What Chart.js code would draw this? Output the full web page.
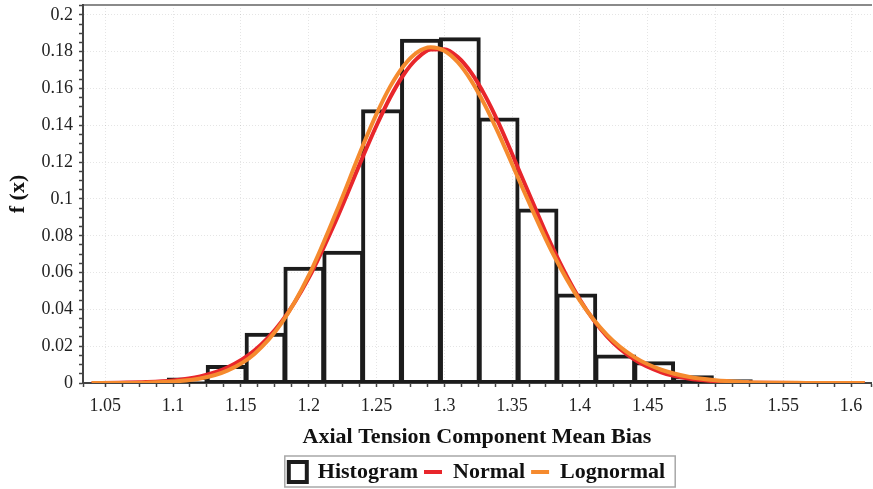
<!DOCTYPE html>
<html>
<head>
<meta charset="utf-8">
<script src="https://cdn.jsdelivr.net/npm/chart.js@4.4.1/dist/chart.umd.min.js"></script>
<style>
  html, body { margin: 0; padding: 0; background: #fff; }
  #wrap { width: 873px; height: 489px; }
</style>
</head>
<body>
<div id="wrap"><canvas id="biasChart" width="873" height="489"></canvas></div>
<script>
// Histogram: bin centres and relative frequencies
const binCentres = [1.1108, 1.1395, 1.1682, 1.1968, 1.2255, 1.2541, 1.2828, 1.3115,
                    1.3401, 1.3688, 1.3974, 1.4261, 1.4548, 1.4834, 1.5121];
const binHeights = [0.0022, 0.0090, 0.0265, 0.0623, 0.0710, 0.1480, 0.1862, 0.1870,
                    0.1434, 0.0940, 0.0478, 0.0147, 0.0110, 0.0034, 0.0012];

// Fitted curves, sampled along the bias axis
const curveX = [1.04, 1.06, 1.08, 1.10, 1.12, 1.14, 1.16, 1.18, 1.20, 1.22, 1.24, 1.25,
                1.26, 1.27, 1.28, 1.29, 1.30, 1.31, 1.32, 1.33, 1.34, 1.36, 1.38, 1.40,
                1.42, 1.44, 1.46, 1.48, 1.50, 1.52, 1.54, 1.56, 1.58, 1.60, 1.61];
const normalY = [0.0000, 0.0002, 0.0005, 0.0014, 0.0036, 0.0084, 0.0176, 0.0333, 0.0570,
                 0.0881, 0.1230, 0.1398, 0.1550, 0.1675, 0.1764, 0.1812, 0.1814, 0.1771,
                 0.1685, 0.1563, 0.1414, 0.1072, 0.0734, 0.0454, 0.0253, 0.0128, 0.0058,
                 0.0024, 0.0009, 0.0003, 0.0001, 0.0000, 0.0000, 0.0000, 0.0000];
const lognormalY = [0.0000, 0.0000, 0.0002, 0.0008, 0.0024, 0.0067, 0.0158, 0.0325, 0.0583,
                    0.0922, 0.1290, 0.1461, 0.1609, 0.1723, 0.1797, 0.1825, 0.1806, 0.1743,
                    0.1642, 0.1510, 0.1356, 0.1022, 0.0705, 0.0448, 0.0262, 0.0142, 0.0072,
                    0.0034, 0.0015, 0.0006, 0.0002, 0.0001, 0.0000, 0.0000, 0.0000];

// Axis ranges and tick steps
const xMin = 1.0336, xMax = 1.6147;
const yMin = 0, yMax = 0.2054;
const xMajor = 0.05, xMinor = 0.0125;
const yMajor = 0.02, yMinor = 0.005;

const serif = "'Liberation Serif', 'Times New Roman', serif";
const gridColor = 'rgba(0,0,0,0.10)';

function isMajor(v, step) {
  const r = v / step;
  return Math.abs(r - Math.round(r)) < 1e-6;
}
function fmt(v) {
  return String(parseFloat(v.toFixed(2)));
}

// thin grey frame around the legend entries
const legendFrame = {
  id: 'legendFrame',
  afterDraw(chart) {
    const boxes = chart.legend && chart.legend.legendHitBoxes;
    if (!boxes || !boxes.length) return;
    const first = boxes[0], last = boxes[boxes.length - 1];
    const ctx = chart.ctx;
    ctx.save();
    ctx.strokeStyle = '#a8a8a8';
    ctx.lineWidth = 1.5;
    ctx.strokeRect(first.left - 4, first.top - 5,
                   last.left + last.width + 10 - (first.left - 4), first.height + 9);
    ctx.restore();
  }
};

const ctx = document.getElementById('biasChart').getContext('2d');
new Chart(ctx, {
  type: 'bar',
  data: {
    datasets: [
      {
        type: 'bar',
        label: 'Histogram',
        xAxisID: 'xb',
        data: binCentres.map((x, i) => ({ x: x, y: binHeights[i] })),
        backgroundColor: 'rgba(0,0,0,0)',
        borderColor: '#1c1c1c',
        borderWidth: 1,
        inflateAmount: 1.5,
        borderSkipped: false,
        grouped: false,
        barPercentage: 1,
        categoryPercentage: 1,
        order: 3
      },
      {
        type: 'line',
        label: 'Normal',
        xAxisID: 'x',
        data: curveX.map((x, i) => ({ x: x, y: normalY[i] })),
        borderColor: '#e8262b',
        borderWidth: 4,
        pointRadius: 0,
        fill: false,
        cubicInterpolationMode: 'monotone',
        order: 2
      },
      {
        type: 'line',
        label: 'Lognormal',
        xAxisID: 'x',
        data: curveX.map((x, i) => ({ x: x, y: lognormalY[i] })),
        borderColor: '#f58a2e',
        borderWidth: 4,
        pointRadius: 0,
        fill: false,
        cubicInterpolationMode: 'monotone',
        order: 1
      }
    ]
  },
  options: {
    responsive: false,
    animation: false,
    devicePixelRatio: 1,
    layout: { autoPadding: false, padding: { left: 0, right: 2, top: 5, bottom: -4 } },
    plugins: {
      tooltip: { enabled: false },
      legend: {
        position: 'bottom',
        fullSize: false,
        labels: {
          usePointStyle: true,
          pointStyleWidth: 18,
          boxHeight: 20,
          padding: 6,
          color: '#111',
          font: { family: serif, size: 22, weight: 'bold' },
          generateLabels: (chart) => chart.data.datasets.map((ds, i) => ({
            text: ds.label,
            datasetIndex: i,
            hidden: false,
            fontColor: '#111',
            fillStyle: ds.type === 'bar' ? '#fff' : ds.borderColor,
            strokeStyle: ds.borderColor,
            lineWidth: 4,
            pointStyle: ds.type === 'bar' ? 'rect' : 'line'
          }))
        }
      }
    },
    scales: {
      // hidden axis that carries the histogram bars (no ticks, so the bar width follows the bin spacing)
      xb: {
        type: 'linear',
        position: 'bottom',
        display: false,
        min: xMin,
        max: xMax,
        offset: false,
        grid: { offset: false, display: false },
        ticks: { display: false, count: 2 }
      },
      x: {
        type: 'linear',
        position: 'bottom',
        min: xMin,
        max: xMax,
        offset: false,
        ticks: {
          stepSize: xMinor,
          autoSkip: false,
          maxRotation: 0,
          padding: 8,
          color: '#222',
          font: { family: serif, size: 18 },
          callback: (v) => isMajor(v, xMajor) ? fmt(v) : ''
        },
        grid: {
          offset: false,
          color: (c) => (c.tick && isMajor(c.tick.value, xMajor)) ? gridColor : 'rgba(0,0,0,0)',
          lineWidth: 1,
          tickLength: 4,
          tickWidth: 1.5,
          tickColor: '#444'
        },
        border: { color: '#444', width: 2, dash: [1, 2] },
        title: {
          display: true,
          text: 'Axial Tension Component Mean Bias',
          color: '#111',
          font: { family: serif, size: 22, weight: 'bold' },
          padding: { top: 0, bottom: 4 }
        },
        afterFit: (s) => { s.height = 72; s.paddingLeft = 0; s.paddingRight = 0; }
      },
      x2: {
        type: 'linear',
        position: 'top',
        display: true,
        min: xMin,
        max: xMax,
        offset: false,
        grid: { display: false, drawTicks: false, offset: false },
        ticks: { display: false },
        border: { display: true, color: '#8a8a8a', width: 2 }
      },
      y: {
        type: 'linear',
        min: yMin,
        max: yMax,
        ticks: {
          stepSize: yMinor,
          autoSkip: false,
          padding: 6,
          color: '#222',
          font: { family: serif, size: 18 },
          callback: (v) => isMajor(v, yMajor) ? fmt(v) : ''
        },
        grid: {
          color: (c) => (c.tick && isMajor(c.tick.value, yMajor)) ? gridColor : 'rgba(0,0,0,0)',
          lineWidth: 1,
          tickLength: 4,
          tickWidth: 1.5,
          tickColor: '#444'
        },
        border: { color: '#444', width: 2, dash: [1, 2] },
        title: {
          display: true,
          text: 'f (x)',
          color: '#111',
          font: { family: serif, size: 22, weight: 'bold' },
          padding: { top: 5, bottom: 0 }
        },
        afterFit: (s) => { s.width = 83; s.paddingTop = 0; s.paddingBottom = 0; }
      }
    }
  },
  plugins: [legendFrame]
});
</script>
</body>
</html>
